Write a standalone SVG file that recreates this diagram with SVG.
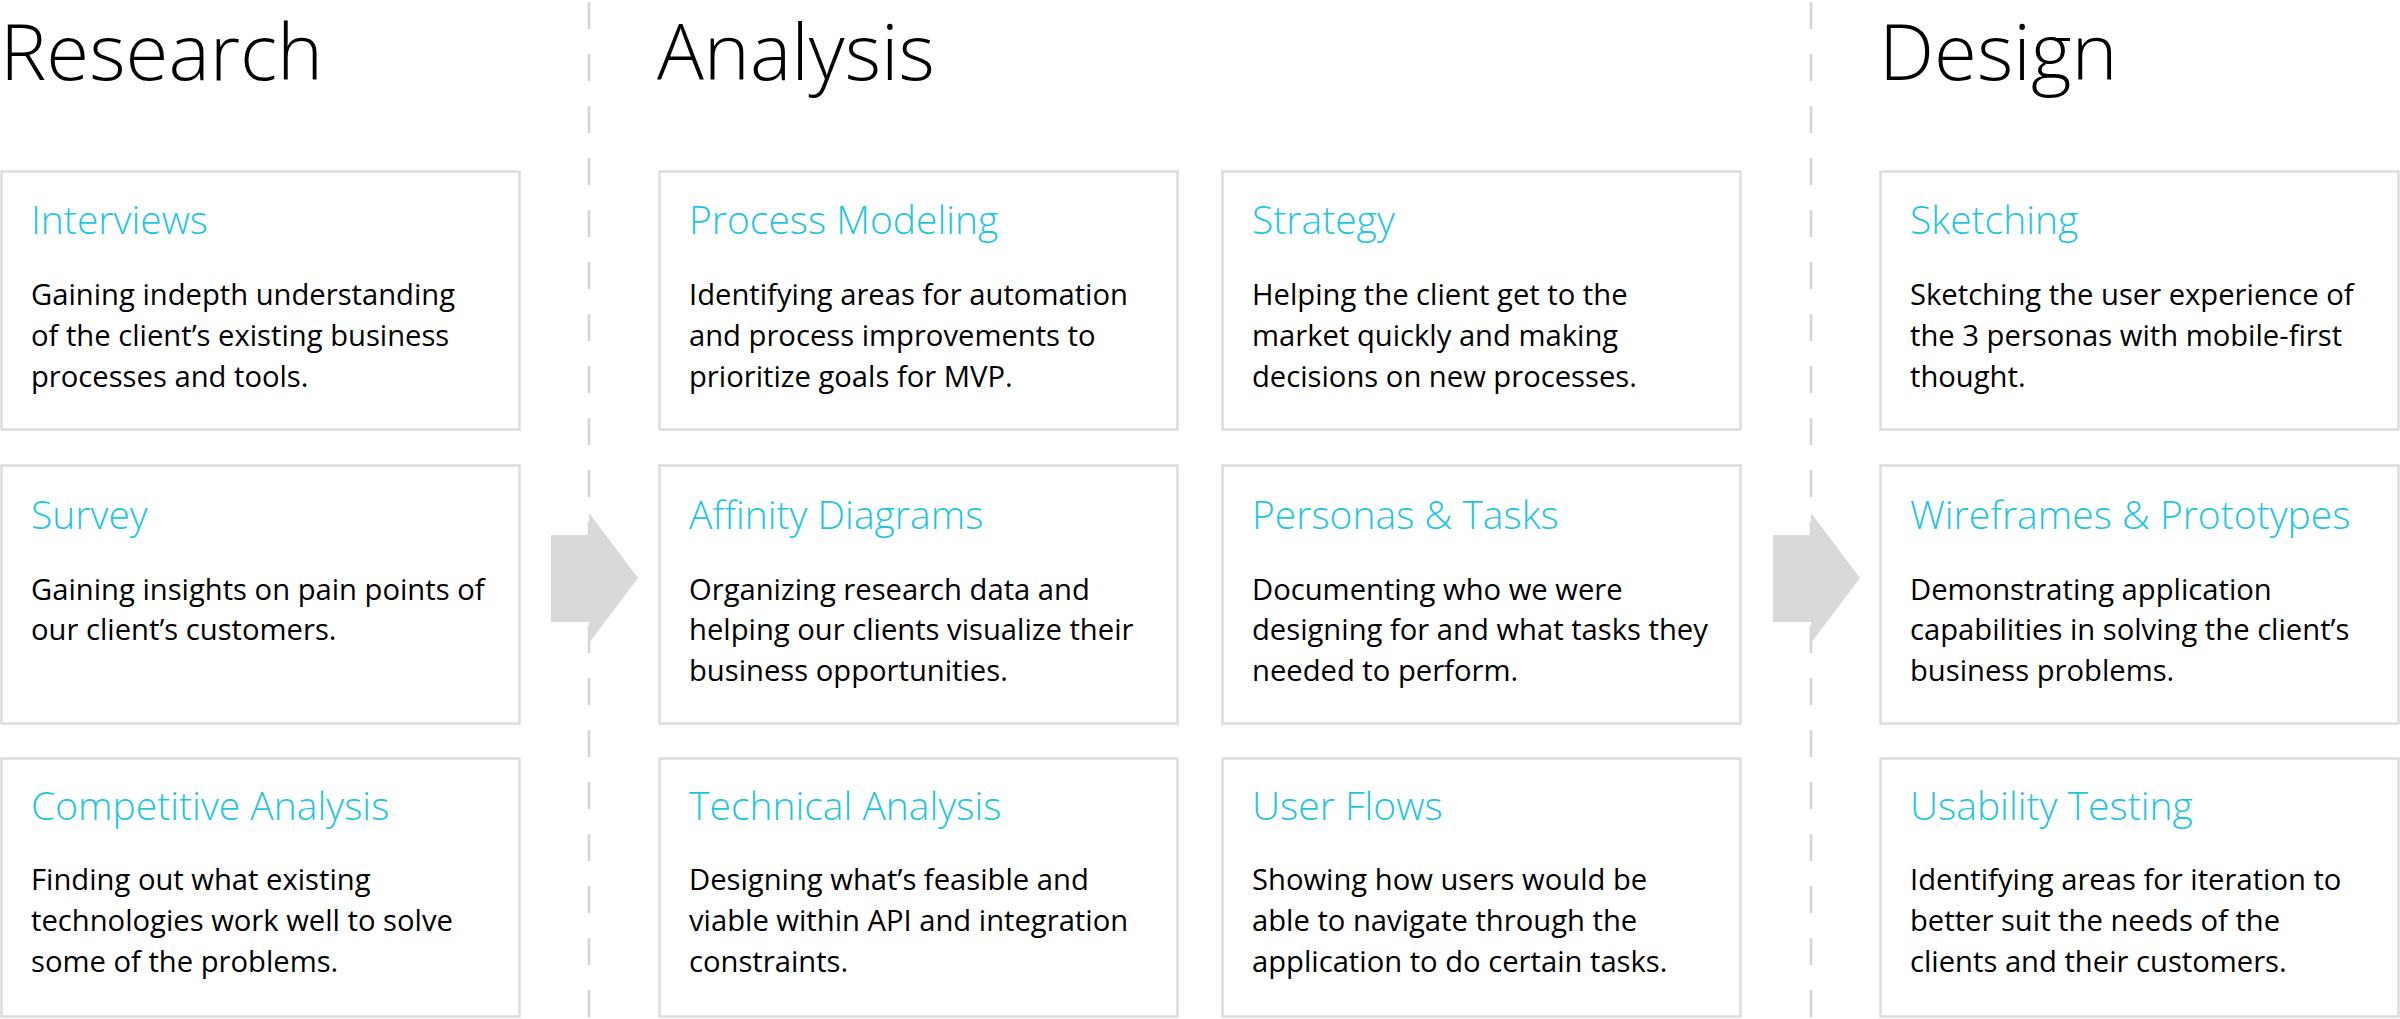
<svg xmlns="http://www.w3.org/2000/svg" width="2400" height="1019" viewBox="0 0 2400 1019">
<style>
.hdr{font-family:"Open Sans","Liberation Sans",sans-serif;font-weight:300;font-size:78px;fill:#000}
.box{fill:#fff;stroke:#dddddd;stroke-width:2.5}
.ttl{font-family:"Open Sans","Liberation Sans",sans-serif;font-weight:300;font-size:39px;fill:#1fc5df}
.bd{font-family:"Open Sans","Liberation Sans",sans-serif;font-weight:400;font-size:29.2px;fill:#000}
.dash{stroke:#d4d4d4;stroke-width:2.5;stroke-dasharray:27 25;fill:none}
.arr{fill:#d9d9d9}
</style>
<rect width="2400" height="1019" fill="#fff"/>
<g id="connectors">
<line class="dash" x1="589" y1="2" x2="589" y2="1019"/>
<line class="dash" x1="1811" y1="2" x2="1811" y2="1019"/>
<polygon class="arr" points="551,535 589,535 589,513 638,578 589,643 589,622 551,622"/>
<polygon class="arr" points="1773,535 1811,535 1811,513 1860,578 1811,643 1811,622 1773,622"/>
</g>
<g id="headers">
<text class="hdr" x="0" y="80">Research</text>
<text class="hdr" x="657" y="80">Analysis</text>
<text class="hdr" x="1879" y="80">Design</text>
</g>
<g id="interviews">
<rect class="box" x="1.5" y="171.5" width="518" height="258"/>
<text class="ttl" x="31" y="234">Interviews</text>
<text class="bd" x="31" y="305">Gaining indepth understanding</text>
<text class="bd" x="31" y="346">of the client’s existing business</text>
<text class="bd" x="31" y="387">processes and tools.</text>
</g>
<g id="survey">
<rect class="box" x="1.5" y="465.5" width="518" height="258"/>
<text class="ttl" x="31" y="529">Survey</text>
<text class="bd" x="31" y="600">Gaining insights on pain points of</text>
<text class="bd" x="31" y="640">our client’s customers.</text>
</g>
<g id="competitive-analysis">
<rect class="box" x="1.5" y="758.5" width="518" height="258"/>
<text class="ttl" x="31" y="820">Competitive Analysis</text>
<text class="bd" x="31" y="890">Finding out what existing</text>
<text class="bd" x="31" y="931">technologies work well to solve</text>
<text class="bd" x="31" y="972">some of the problems.</text>
</g>
<g id="process-modeling">
<rect class="box" x="659.5" y="171.5" width="518" height="258"/>
<text class="ttl" x="689" y="234">Process Modeling</text>
<text class="bd" x="689" y="305">Identifying areas for automation</text>
<text class="bd" x="689" y="346">and process improvements to</text>
<text class="bd" x="689" y="387">prioritize goals for MVP.</text>
</g>
<g id="affinity-diagrams">
<rect class="box" x="659.5" y="465.5" width="518" height="258"/>
<text class="ttl" x="689" y="529">Affinity Diagrams</text>
<text class="bd" x="689" y="600">Organizing research data and</text>
<text class="bd" x="689" y="640">helping our clients visualize their</text>
<text class="bd" x="689" y="681">business opportunities.</text>
</g>
<g id="technical-analysis">
<rect class="box" x="659.5" y="758.5" width="518" height="258"/>
<text class="ttl" x="689" y="820">Technical Analysis</text>
<text class="bd" x="689" y="890">Designing what’s feasible and</text>
<text class="bd" x="689" y="931">viable within API and integration</text>
<text class="bd" x="689" y="972">constraints.</text>
</g>
<g id="strategy">
<rect class="box" x="1222.5" y="171.5" width="518" height="258"/>
<text class="ttl" x="1252" y="234">Strategy</text>
<text class="bd" x="1252" y="305">Helping the client get to the</text>
<text class="bd" x="1252" y="346">market quickly and making</text>
<text class="bd" x="1252" y="387">decisions on new processes.</text>
</g>
<g id="personas-tasks">
<rect class="box" x="1222.5" y="465.5" width="518" height="258"/>
<text class="ttl" x="1252" y="529">Personas &amp; Tasks</text>
<text class="bd" x="1252" y="600">Documenting who we were</text>
<text class="bd" x="1252" y="640">designing for and what tasks they</text>
<text class="bd" x="1252" y="681">needed to perform.</text>
</g>
<g id="user-flows">
<rect class="box" x="1222.5" y="758.5" width="518" height="258"/>
<text class="ttl" x="1252" y="820">User Flows</text>
<text class="bd" x="1252" y="890">Showing how users would be</text>
<text class="bd" x="1252" y="931">able to navigate through the</text>
<text class="bd" x="1252" y="972">application to do certain tasks.</text>
</g>
<g id="sketching">
<rect class="box" x="1880.5" y="171.5" width="518" height="258"/>
<text class="ttl" x="1910" y="234">Sketching</text>
<text class="bd" x="1910" y="305">Sketching the user experience of</text>
<text class="bd" x="1910" y="346">the 3 personas with mobile-first</text>
<text class="bd" x="1910" y="387">thought.</text>
</g>
<g id="wireframes-prototypes">
<rect class="box" x="1880.5" y="465.5" width="518" height="258"/>
<text class="ttl" x="1910" y="529">Wireframes &amp; Prototypes</text>
<text class="bd" x="1910" y="600">Demonstrating application</text>
<text class="bd" x="1910" y="640">capabilities in solving the client’s</text>
<text class="bd" x="1910" y="681">business problems.</text>
</g>
<g id="usability-testing">
<rect class="box" x="1880.5" y="758.5" width="518" height="258"/>
<text class="ttl" x="1910" y="820">Usability Testing</text>
<text class="bd" x="1910" y="890">Identifying areas for iteration to</text>
<text class="bd" x="1910" y="931">better suit the needs of the</text>
<text class="bd" x="1910" y="972">clients and their customers.</text>
</g>
</svg>
